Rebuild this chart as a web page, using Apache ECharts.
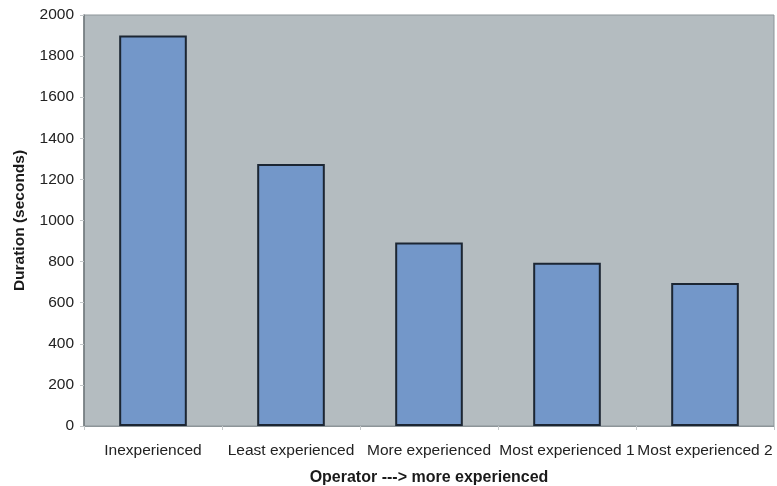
<!DOCTYPE html>
<html>
<head>
<meta charset="utf-8">
<script src="https://cdn.jsdelivr.net/npm/echarts@6/dist/echarts.min.js"></script>
<style>
  html, body { margin: 0; padding: 0; background: #ffffff; }
  #chart { width: 777px; height: 486px; }
</style>
</head>
<body>
<div id="chart"></div>
<script>
// Operator groups along the x axis
const categories = ['Inexperienced', 'Least experienced', 'More experienced', 'Most experienced 1', 'Most experienced 2'];
// Task duration in seconds for each operator group
const durations = [1900, 1275, 893, 795, 696];
// y axis range
const yMin = 0;
const yMax = 2000;
const yStep = 200;

const chart = echarts.init(document.getElementById('chart'), null, { renderer: 'canvas' });

chart.setOption({
  backgroundColor: '#ffffff',
  animation: false,
  grid: {
    left: 84, top: 15, right: 3, bottom: 60,
    containLabel: false,
    outerBoundsMode: 'none',
    show: true,
    backgroundColor: '#b4bcc0',
    borderColor: '#8d9599',
    borderWidth: 1
  },
  xAxis: {
    type: 'category',
    data: categories,
    name: 'Operator ---> more experienced',
    nameLocation: 'middle',
    nameGap: 44,
    nameTextStyle: { fontFamily: 'Liberation Sans', fontWeight: 'bold', fontSize: 16, color: '#1a1a1a' },
    axisLine: { lineStyle: { color: '#8d9599', width: 1 } },
    axisTick: { show: true, length: 4, lineStyle: { color: '#c4c8ca' } },
    axisLabel: { fontFamily: 'Liberation Sans', fontSize: 15.5, color: '#222222', margin: 17, interval: 0 }
  },
  yAxis: {
    type: 'value',
    min: yMin,
    max: yMax,
    interval: yStep,
    name: 'Duration (seconds)',
    nameLocation: 'middle',
    nameGap: 56,
    nameTextStyle: { fontFamily: 'Liberation Sans', fontWeight: 'bold', fontSize: 15.5, color: '#1a1a1a' },
    axisLine: { show: true, lineStyle: { color: '#6f777b', width: 1.5 } },
    axisTick: { show: true, length: 4, lineStyle: { color: '#c4c8ca' } },
    splitLine: { show: false },
    axisLabel: {
      fontFamily: 'Liberation Sans', fontSize: 15.5, color: '#222222', margin: 10,
      formatter: (v) => String(v)
    }
  },
  series: [{
    type: 'bar',
    data: durations,
    barWidth: '49%',
    itemStyle: {
      color: '#7397c9',
      borderColor: '#1c2633',
      borderWidth: 2
    }
  }]
});
</script>
</body>
</html>
